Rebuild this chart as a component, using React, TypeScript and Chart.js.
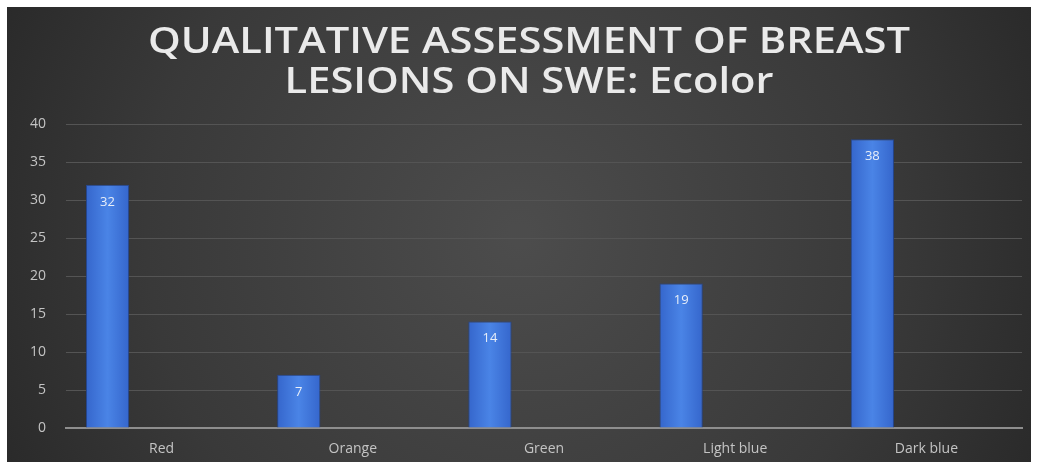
import React, { useEffect, useRef } from "react";
import { Chart, registerables } from "chart.js";

Chart.register(...registerables);

const categories = ["Red", "Orange", "Green", "Light blue", "Dark blue"];
const values = [32, 7, 14, 19, 38];
const emptySeries: (number | null)[] = [null, null, null, null, null];
const titleLines = ["QUALITATIVE ASSESSMENT OF BREAST", "LESIONS ON SWE: Ecolor"];
const yMin = 0;
const yMax = 40;
const yStep = 5;

const bgPlugin = {
  id: "bgPlugin",
  beforeDraw(chart: any) {
    const { ctx, width, height } = chart;
    ctx.save();
    const g = ctx.createRadialGradient(width * 0.5, height * 0.5, 10, width * 0.5, height * 0.5, width * 0.6);
    g.addColorStop(0, "#4c4c4c");
    g.addColorStop(0.6, "#393939");
    g.addColorStop(1, "#262626");
    ctx.fillStyle = g;
    ctx.fillRect(0, 0, width, height);
    ctx.restore();
  },
};

// Title drawn as real canvas text, stretched horizontally like the reference
const titlePlugin = {
  id: "titlePlugin",
  afterDraw(chart: any) {
    const { ctx } = chart;
    ctx.save();
    ctx.font = "600 36px 'Open Sans'";
    ctx.fillStyle = "#eaeaea";
    ctx.textAlign = "center";
    ctx.textBaseline = "middle";
    const w = ctx.measureText(titleLines[0]).width;
    const sx = 762 / w;
    const cx = 522;
    titleLines.forEach((line, i) => {
      ctx.save();
      ctx.translate(cx, 36 + i * 40);
      ctx.scale(sx, 1);
      ctx.fillText(line, 0, 0);
      ctx.restore();
    });
    ctx.restore();
  },
};

const labelPlugin = {
  id: "labelPlugin",
  afterDatasetsDraw(chart: any) {
    const { ctx } = chart;
    const meta = chart.getDatasetMeta(0);
    ctx.save();
    ctx.font = "13px 'Open Sans'";
    ctx.fillStyle = "#e8eef8";
    ctx.textAlign = "center";
    ctx.textBaseline = "middle";
    meta.data.forEach((el: any, i: number) => {
      ctx.fillText(String(values[i]), el.x, el.y + 17);
    });
    ctx.restore();
  },
};

export default function App() {
  const ref = useRef<HTMLCanvasElement>(null);
  useEffect(() => {
    if (!ref.current) return;
    const barColor = (c: any) => {
      const chart = c.chart;
      const meta = chart.getDatasetMeta(c.datasetIndex);
      const el: any = meta && meta.data[c.dataIndex];
      if (!el || typeof el.x !== "number" || !el.width || isNaN(el.x)) return "#3f74d8";
      const g = chart.ctx.createLinearGradient(el.x - el.width / 2, 0, el.x + el.width / 2, 0);
      g.addColorStop(0, "#3566cc");
      g.addColorStop(0.5, "#4a84e6");
      g.addColorStop(1, "#3566cc");
      return g;
    };
    const chart = new Chart(ref.current, {
      type: "bar",
      data: {
        labels: categories,
        datasets: [
          { label: "Ecolor", data: values, backgroundColor: barColor, borderColor: "#24468f", borderWidth: 1 },
          { label: "", data: emptySeries },
          { label: "", data: emptySeries },
        ],
      },
      options: {
        animation: false,
        responsive: false,
        maintainAspectRatio: false,
        datasets: { bar: { categoryPercentage: 0.848, barPercentage: 0.8 } } as any,
        layout: { padding: { left: 0, right: 9, top: 117, bottom: 0 } },
        plugins: {
          legend: { display: false },
          tooltip: { enabled: false },
          title: { display: false },
        },
        scales: {
          x: {
            grid: { display: false, drawTicks: false },
            border: { display: true, color: "#8e8e8e", width: 2 },
            ticks: { color: "#c4c4c4", font: { family: "'Open Sans'", size: 14 }, padding: 13 },
            afterFit: (s: any) => { s.height = 34; },
          },
          y: {
            min: yMin,
            max: yMax,
            ticks: { stepSize: yStep, color: "#c4c4c4", font: { family: "'Open Sans'", size: 14 }, padding: 20 },
            grid: { color: "#545454", lineWidth: 1, drawTicks: false },
            border: { display: false },
            afterFit: (s: any) => { s.width = 59; },
          },
        },
      },
      plugins: [bgPlugin, titlePlugin, labelPlugin],
    });
    chart.update();
    return () => chart.destroy();
  }, []);
  return (
    <div style={{ position: "absolute", left: 7, top: 7, width: 1024, height: 455 }}>
      <canvas ref={ref} width={1024} height={455} style={{ display: "block" }} />
    </div>
  );
}
